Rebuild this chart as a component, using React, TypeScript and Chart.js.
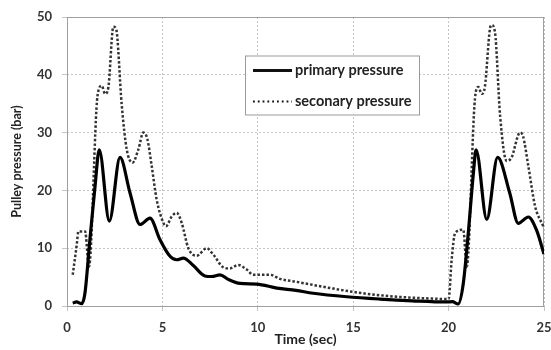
import { useEffect, useRef } from "react";
import { Chart, registerables } from "chart.js";

Chart.register(...registerables);

const primaryTime = [0.3, 0.5, 0.77, 0.94, 1.2, 1.47, 1.69, 2.22, 2.78, 3.3, 3.83, 4.35, 4.87, 5.4, 5.75, 6.1, 6.62, 7.23, 7.58, 8.02, 8.45, 9.07, 9.94, 11.0, 12.0, 12.9, 14.66, 16.4, 18.1, 19.9, 20.2, 20.5, 20.77, 21.03, 21.3, 21.44, 22.0, 22.57, 23.2, 23.65, 24.18, 24.6, 25.0];
const primaryPressure = [0.5, 0.7, 0.4, 2.2, 11.5, 20.7, 27.0, 14.7, 25.7, 19.6, 14.1, 15.2, 11.5, 8.6, 8.0, 8.3, 7.0, 5.2, 5.1, 5.4, 4.6, 3.9, 3.8, 3.1, 2.7, 2.2, 1.6, 1.2, 0.9, 0.7, 0.75, 0.35, 3.9, 12.6, 23.0, 27.0, 15.0, 25.7, 19.6, 14.3, 15.4, 13.2, 9.0];

const secondaryTime = [0.3, 0.5, 0.6, 0.95, 1.15, 1.6, 1.82, 2.0, 2.17, 2.43, 2.57, 2.87, 3.13, 3.44, 3.74, 4.0, 4.21, 4.44, 4.7, 5.05, 5.19, 5.49, 5.75, 6.01, 6.36, 6.8, 7.32, 7.67, 8.19, 8.54, 8.98, 9.42, 9.76, 10.64, 11.16, 12.0, 13.8, 15.5, 17.3, 19.0, 20.0, 20.16, 20.34, 20.77, 20.95, 21.38, 21.56, 21.73, 21.9, 22.17, 22.26, 22.43, 22.7, 23.04, 23.3, 23.74, 23.9, 24.18, 24.53, 24.96];
const secondaryPressure = [5.4, 10.3, 12.9, 12.9, 6.8, 36.4, 38.1, 36.7, 37.9, 48.3, 48.0, 34.7, 27.1, 24.8, 27.1, 30.0, 28.9, 24.2, 18.4, 14.4, 13.8, 15.5, 16.1, 14.4, 10.0, 8.7, 10.0, 8.9, 6.7, 6.5, 7.1, 6.3, 5.4, 5.4, 4.7, 4.2, 3.1, 2.2, 1.6, 1.3, 1.2, 8.0, 12.6, 13.2, 6.8, 35.8, 37.9, 36.7, 37.9, 48.0, 48.6, 47.4, 32.9, 25.1, 25.7, 30.0, 29.4, 24.2, 17.3, 13.8];

const seriesLabels = ["primary pressure", "seconary pressure"];
const xTitle = "Time (sec)";
const yTitle = "Pulley pressure (bar)";

const FONT = "Lato, 'Open Sans', sans-serif";

export default function App() {
  const ref = useRef<HTMLCanvasElement>(null);

  useEffect(() => {
    document.body.style.margin = "0";
    const canvas = ref.current;
    if (!canvas) return;

    const framePlugin = {
      id: "frame",
      beforeDatasetsDraw(chart: any) {
        const { ctx, chartArea } = chart;
        ctx.save();
        ctx.strokeStyle = "#a0a0a0";
        ctx.lineWidth = 1;
        ctx.setLineDash([]);
        ctx.strokeRect(chartArea.left + 0.5, chartArea.top + 0.5, chartArea.right - chartArea.left - 1, chartArea.bottom - chartArea.top);
        ctx.restore();
      },
    };

    const legendPlugin = {
      id: "boxLegend",
      afterDraw(chart: any) {
        const { ctx, chartArea } = chart;
        const x0 = chartArea.left + 178;
        const y0 = chartArea.top + 38.5;
        const w = 174;
        const h = 59;
        ctx.save();
        ctx.fillStyle = "#ffffff";
        ctx.fillRect(x0, y0, w, h);
        ctx.strokeStyle = "#9a9a9a";
        ctx.lineWidth = 1;
        ctx.strokeRect(x0 + 0.5, y0 + 0.5, w, h);
        const rows = [y0 + 15, y0 + 46];
        chart.data.datasets.forEach((ds: any, i: number) => {
          const y = rows[i];
          ctx.beginPath();
          ctx.strokeStyle = "#111";
          ctx.lineWidth = i === 0 ? 3 : 1.8;
          ctx.setLineDash(i === 0 ? [] : [1.8, 3]);
          ctx.moveTo(x0 + 8, y);
          ctx.lineTo(x0 + 47, y);
          ctx.stroke();
          ctx.setLineDash([]);
          ctx.fillStyle = "#222";
          ctx.font = `bold 14.5px ${FONT}`;
          ctx.textBaseline = "middle";
          ctx.textAlign = "left";
          ctx.fillText(ds.label, x0 + 50, y);
        });
        ctx.restore();
      },
    };

    const chart = new Chart(canvas, {
      type: "line",
      data: {
        datasets: [
          {
            label: seriesLabels[0],
            data: primaryTime.map((t, i) => ({ x: t, y: primaryPressure[i] })),
            borderColor: "#000000",
            borderWidth: 3.2,
            pointRadius: 0,
            cubicInterpolationMode: "monotone",
            fill: false,
          },
          {
            label: seriesLabels[1],
            data: secondaryTime.map((t, i) => ({ x: t, y: secondaryPressure[i] })),
            borderColor: "#333333",
            borderWidth: 2.5,
            borderDash: [2.5, 2],
            pointRadius: 0,
            cubicInterpolationMode: "monotone",
            fill: false,
          },
        ],
      },
      options: {
        animation: false,
        responsive: false,
        devicePixelRatio: 1,
        layout: { padding: { top: 17, right: 7, bottom: 0, left: 0 } },
        plugins: { legend: { display: false }, tooltip: { enabled: false } },
        scales: {
          x: {
            type: "linear",
            min: 0,
            max: 25,
            ticks: { stepSize: 5, color: "#333", font: { family: FONT, size: 13, weight: "bold" }, padding: 9, maxRotation: 0 },
            grid: { color: "#c4c4c4", tickLength: 5 },
            border: { display: false, dash: [2, 2] },
            title: { display: true, text: xTitle, color: "#222", font: { family: FONT, size: 14, weight: "bold" }, padding: { top: 0, bottom: 2 } },
            afterFit(scale: any) {
              scale.height = 44;
              scale.paddingLeft = 0;
              scale.paddingRight = 0;
            },
          },
          y: {
            min: 0,
            max: 50,
            ticks: { stepSize: 10, color: "#333", font: { family: FONT, size: 13, weight: "bold" }, padding: 10 },
            grid: { color: "#c4c4c4", tickLength: 5 },
            border: { display: false, dash: [2, 2] },
            title: { display: true, text: yTitle, color: "#222", font: { family: FONT, size: 12.5, weight: "bold" }, padding: { top: 9, bottom: 0 } },
            afterFit(scale: any) {
              scale.width = 67;
              scale.paddingTop = 0;
              scale.paddingBottom = 0;
            },
          },
        },
      },
      plugins: [framePlugin, legendPlugin],
    });

    return () => chart.destroy();
  }, []);

  return (
    <div style={{ position: "relative", width: 551, height: 350 }}>
      <canvas ref={ref} width={551} height={350} style={{ display: "block" }} />
    </div>
  );
}
